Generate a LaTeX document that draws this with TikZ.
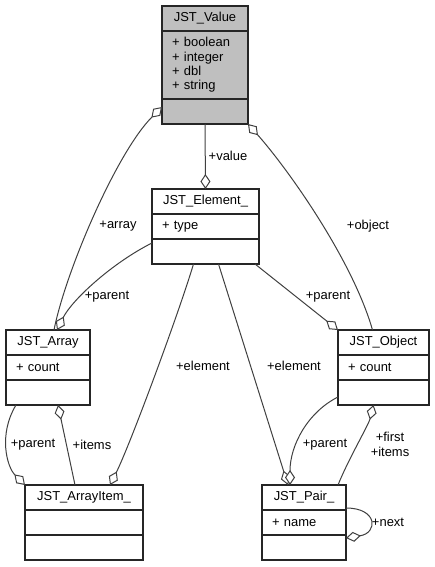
\documentclass[tikz,border=0pt]{standalone}
\usepackage{fontspec}
\setmainfont{Liberation Sans}
\usetikzlibrary{positioning,arrows.meta}

\definecolor{edge}{HTML}{404040}
\definecolor{valfill}{HTML}{BFBFBF}

\begin{document}
\begin{tikzpicture}[x=1bp, y=-1bp,
  cls/.style={draw=black!85, line width=1.5bp, inner sep=0pt, outer sep=0pt, minimum height=25bp, font=\fontsize{13}{14.4}\selectfont},
  head/.style={cls, minimum width=#1},
  body/.style={cls, text width=#1, inner xsep=10bp, align=left},
  agg/.style={{Diamond[fill=white, length=15bp, width=10bp]}-, draw=edge, line width=1bp},
  lab/.style={font=\fontsize{13}{14.4}\selectfont, inner sep=1bp, align=center}]

  \useasboundingbox (0,0) rectangle (435,567);

  % JST_Value
  \node[head=86bp, fill=valfill] (valueT) at (205,18.5) {JST\_Value};
  \node[body=66bp, fill=valfill, minimum height=68bp, below=0pt of valueT] (valueA) {+ boolean\\+ integer\\+ dbl\\+ string};
  \node[body=66bp, fill=valfill, below=0pt of valueA] (valueM) {};

  % JST_Element_
  \node[head=107bp] (elementT) at (205.5,201.5) {JST\_Element\_};
  \node[body=87bp, below=0pt of elementT] (elementA) {+ type};
  \node[body=87bp, below=0pt of elementA] (elementM) {};

  % JST_Array
  \node[head=84bp] (arrayT) at (48,342.5) {JST\_Array};
  \node[body=64bp, below=0pt of arrayT] (arrayA) {+ count};
  \node[body=64bp, below=0pt of arrayA] (arrayM) {};

  % JST_Object
  \node[head=91bp] (objectT) at (383.5,342.5) {JST\_Object};
  \node[body=71bp, below=0pt of objectT] (objectA) {+ count};
  \node[body=71bp, below=0pt of objectA] (objectM) {};

  % JST_ArrayItem_
  \node[head=118bp] (itemT) at (84,497.5) {JST\_ArrayItem\_};
  \node[body=98bp, below=0pt of itemT] (itemA) {};
  \node[body=98bp, below=0pt of itemA] (itemM) {};

  % JST_Pair_
  \node[head=84bp] (pairT) at (304,497.5) {JST\_Pair\_};
  \node[body=64bp, below=0pt of pairT] (pairA) {+ name};
  \node[body=64bp, below=0pt of pairA] (pairM) {};

  % members of JST_Value
  \draw[agg] (elementT.north) -- (valueM.south);
  \draw[agg] ([yshift=-8bp]valueM.north west) .. controls +(-45,45) and +(12,-60) .. ([xshift=6bp]arrayT.north);
  \draw[agg] (valueM.south east) .. controls +(40,45) and +(-20,-70) .. ([xshift=-11bp]objectT.north);

  % members of JST_Element_
  \draw[agg] ([xshift=9bp]arrayT.north) .. controls +(15,-30) and +(-40,20) .. ([yshift=-4bp]elementM.north west);
  \draw[agg] (objectT.north west) -- ([xshift=-4bp]elementM.south east);
  \draw[agg] ([xshift=26bp]itemT.north) .. controls +(20,-40) and +(-15,50) .. ([xshift=-12bp]elementM.south);
  \draw[agg] ([xshift=-16bp]pairT.north) -- ([xshift=13bp]elementM.south);

  % JST_Array and JST_ArrayItem_
  \draw[agg] (itemT.north west) .. controls +(-18,-18) and +(-18,30) .. ([xshift=10bp]arrayM.south west);
  \draw[agg] ([xshift=10bp]arrayM.south) -- ([xshift=-9bp]itemT.north);

  % JST_Object and JST_Pair_
  \draw[agg] ([xshift=-14bp]pairT.north) .. controls +(0,-40) and +(-30,15) .. ([yshift=8bp]objectM.south west);
  \draw[agg] ([xshift=-10bp]objectM.south) .. controls +(-5,20) and +(10,-25) .. ([xshift=34bp]pairT.north);
  \draw[agg] ([yshift=-3bp]pairM.north east) .. controls +(32,-5) and +(32,0) .. ([yshift=2bp]pairT.south east);

  % Labels
  \node[lab] (lValue) at (228,156) {+value};
  \node[lab] (lArray) at (118,226) {+array};
  \node[lab] (lObject) at (368,226) {+object};
  \node[lab] (lParentA) at (107,297) {+parent};
  \node[lab] (lParentO) at (328,297) {+parent};
  \node[lab] (lElemA) at (203,366) {+element};
  \node[lab] (lElemP) at (294,366) {+element};
  \node[lab] (lParentI) at (33,445) {+parent};
  \node[lab] (lItems) at (92,445) {+items};
  \node[lab] (lParentP) at (325,445) {+parent};
  \node[lab, text depth=0pt, execute at begin node=\setlength{\baselineskip}{15bp}] (lFirst) at (390,444) {+first\\+items};
  \node[lab] (lNext) at (388,522) {+next};

\end{tikzpicture}
\end{document}
